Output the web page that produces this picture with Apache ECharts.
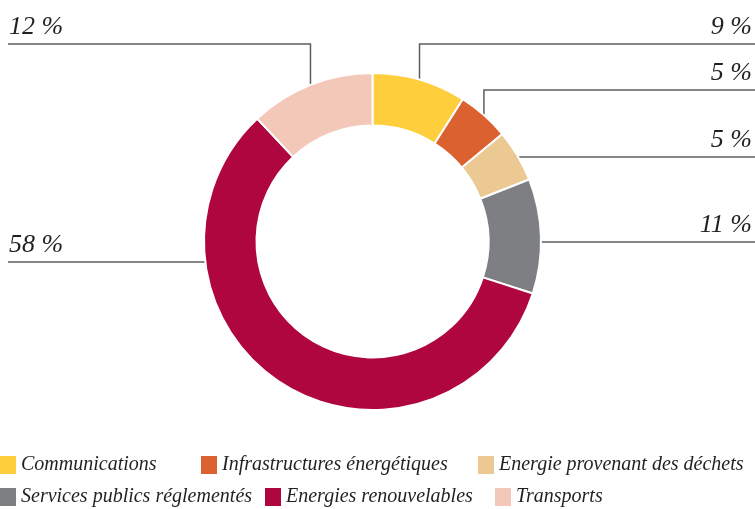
<!DOCTYPE html>
<html><head><meta charset="utf-8">
<script src="https://cdn.jsdelivr.net/npm/echarts@6/dist/echarts.min.js"></script>
<style>html,body{margin:0;padding:0;background:#fff}#c{width:755px;height:509px}</style>
</head><body><div id="c"></div>
<script>
const categories = ['Communications', 'Infrastructures énergétiques', 'Energie provenant des déchets', 'Services publics réglementés', 'Energies renouvelables', 'Transports'];
const values = [9, 5, 5, 11, 58, 12];
const colors = ['#FFCE3D', '#DC6130', '#ECC993', '#7E7F82', '#B0063F', '#F4C8B9'];

// layout constants
const CX = 372.5, CY = 241.5, R_IN = 116, R_OUT = 168.5;
const W = 755;
const routes = [
  { side: 'right', lineY: 44, vertical: true },
  { side: 'right', lineY: 90, vertical: true },
  { side: 'right', lineY: 157 },
  { side: 'right', lineY: 242 },
  { side: 'left', lineY: 262 },
  { side: 'left', lineY: 44, vertical: true }
];
const legendPos = [[0, 455], [201, 455], [478, 455], [0, 487], [265, 487], [495, 487]];
const FONT = 'Liberation Serif';

const chart = echarts.init(document.getElementById('c'), null, { renderer: 'canvas' });

const legends = categories.map((name, i) => ({
  data: [name],
  left: legendPos[i][0],
  top: legendPos[i][1],
  padding: 0,
  itemWidth: 16,
  itemHeight: 18,
  icon: 'rect',
  selectedMode: false,
  itemStyle: { borderWidth: 0 },
  textStyle: { fontFamily: FONT, fontStyle: 'italic', fontSize: 20, color: '#231F20' }
}));

chart.setOption({
  animation: false,
  color: colors,
  legend: legends,
  series: [{
    type: 'pie',
    center: [CX, CY],
    radius: [R_IN, R_OUT],
    startAngle: 90,
    clockwise: true,
    avoidLabelOverlap: false,
    itemStyle: { borderColor: '#fff', borderWidth: 2 },
    label: {
      show: true,
      position: 'outside',
      formatter: '{c} %',
      fontFamily: FONT,
      fontStyle: 'italic',
      fontSize: 26,
      color: '#231F20'
    },
    labelLine: { show: true, length: 5, length2: 5, lineStyle: { color: '#5E5E5E', width: 1.5 } },
    emphasis: { disabled: true },
    labelLayout: function (p) {
      const r = routes[p.dataIndex];
      const a = p.labelLinePoints ? p.labelLinePoints[0] : [CX, CY];
      let pts;
      if (r.vertical) {
        const endX = r.side === 'right' ? W : 8;
        pts = [[a[0], a[1]], [a[0], r.lineY], [endX, r.lineY]];
      } else {
        const dx = Math.sqrt(Math.max(0, R_OUT * R_OUT - (r.lineY - CY) * (r.lineY - CY)));
        const sx = r.side === 'right' ? CX + dx : CX - dx;
        const endX = r.side === 'right' ? W : 8;
        pts = [[sx, r.lineY], [(sx + endX) / 2, r.lineY], [endX, r.lineY]];
      }
      return {
        x: r.side === 'right' ? W - 3 : 9,
        y: r.lineY - 4,
        align: r.side === 'right' ? 'right' : 'left',
        verticalAlign: 'bottom',
        labelLinePoints: pts
      };
    },
    data: categories.map((n, i) => ({ name: n, value: values[i] }))
  }]
});
</script></body></html>
